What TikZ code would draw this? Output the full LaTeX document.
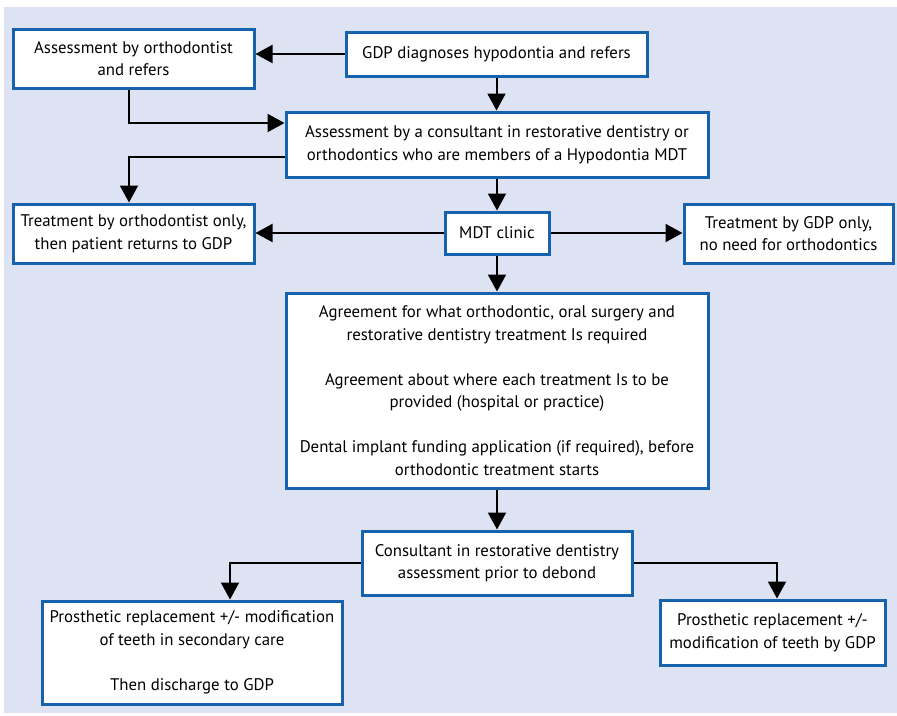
\documentclass[tikz,border=0pt]{standalone}
\usepackage{fontspec}
\setmainfont{PT Sans}
\usetikzlibrary{arrows.meta}
\definecolor{bg}{RGB}{221,227,243}
\definecolor{bord}{RGB}{22,98,172}
\begin{document}
\begin{tikzpicture}[x=1pt,y=-1pt,
  box/.style={draw=bord, line width=3pt, fill=white, align=center, inner sep=0pt,
    font=\fontsize{16.8}{22.5}\selectfont},
  arr/.style={line width=2pt, -{Triangle[length=17pt,width=18pt]}}]
\useasboundingbox[fill=white] (0,0) rectangle (897,715);
\fill[bg] (4,7) rectangle (897,713);
\node[box, minimum width=241pt, minimum height=59pt] (orth) at (133.5,58.5) {Assessment by orthodontist\\and refers};
\node[box, minimum width=301pt, minimum height=44pt] (gdp) at (496.5,54) {GDP diagnoses hypodontia and refers};
\node[box, minimum width=422pt, minimum height=65pt] (cons) at (497,144.5) {Assessment by a consultant in restorative dentistry or\\orthodontics who are members of a Hypodontia MDT};
\node[box, minimum width=241pt, minimum height=59pt] (torth) at (133.5,233.5) {Treatment by orthodontist only,\\then patient returns to GDP};
\node[box, minimum width=104pt, minimum height=42pt] (mdt) at (497,233) {MDT clinic};
\node[box, minimum width=209pt, minimum height=59pt] (tgdp) at (788.5,233.5) {Treatment by GDP only,\\no need for orthodontics};
\node[box, minimum width=422pt, minimum height=195pt] (agree) at (497,390.5) {Agreement for what orthodontic, oral surgery and\\restorative dentistry treatment Is required\\[22.5pt]Agreement about where each treatment Is to be\\provided (hospital or practice)\\[22.5pt]Dental implant funding application (if required), before\\orthodontic treatment starts};
\node[box, minimum width=270pt, minimum height=64pt] (cons2) at (497,563) {Consultant in restorative dentistry\\assessment prior to debond};
\node[box, minimum width=300pt, minimum height=103pt] (pros1) at (192,652.5) {Prosthetic replacement +/- modification\\of teeth in secondary care\\[22.5pt]Then discharge to GDP};
\node[box, minimum width=225pt, minimum height=65pt] (pros2) at (772.5,632.5) {Prosthetic replacement +/-\\modification of teeth by GDP};
\draw[arr] (gdp.west) -- (gdp.west -| orth.east);
\draw[arr] (gdp.south) -- (gdp.south |- cons.north);
\draw[arr] ([xshift=-4.5pt]orth.south) |- ([yshift=21.5pt]cons.west);
\draw[arr] ([yshift=-12.5pt]cons.west) -| ([xshift=-4.5pt]torth.north);
\draw[arr] (cons.south) -- (mdt.north);
\draw[arr] (mdt.west) -- (mdt.west -| torth.east);
\draw[arr] (mdt.east) -- (mdt.east -| tgdp.west);
\draw[arr] (mdt.south) -- (agree.north);
\draw[arr] (agree.south) -- (cons2.north);
\draw[arr] (cons2.west) -| ([xshift=38pt]pros1.north);
\draw[arr] (cons2.east) -| ([xshift=4.5pt]pros2.north);
\end{tikzpicture}
\end{document}
